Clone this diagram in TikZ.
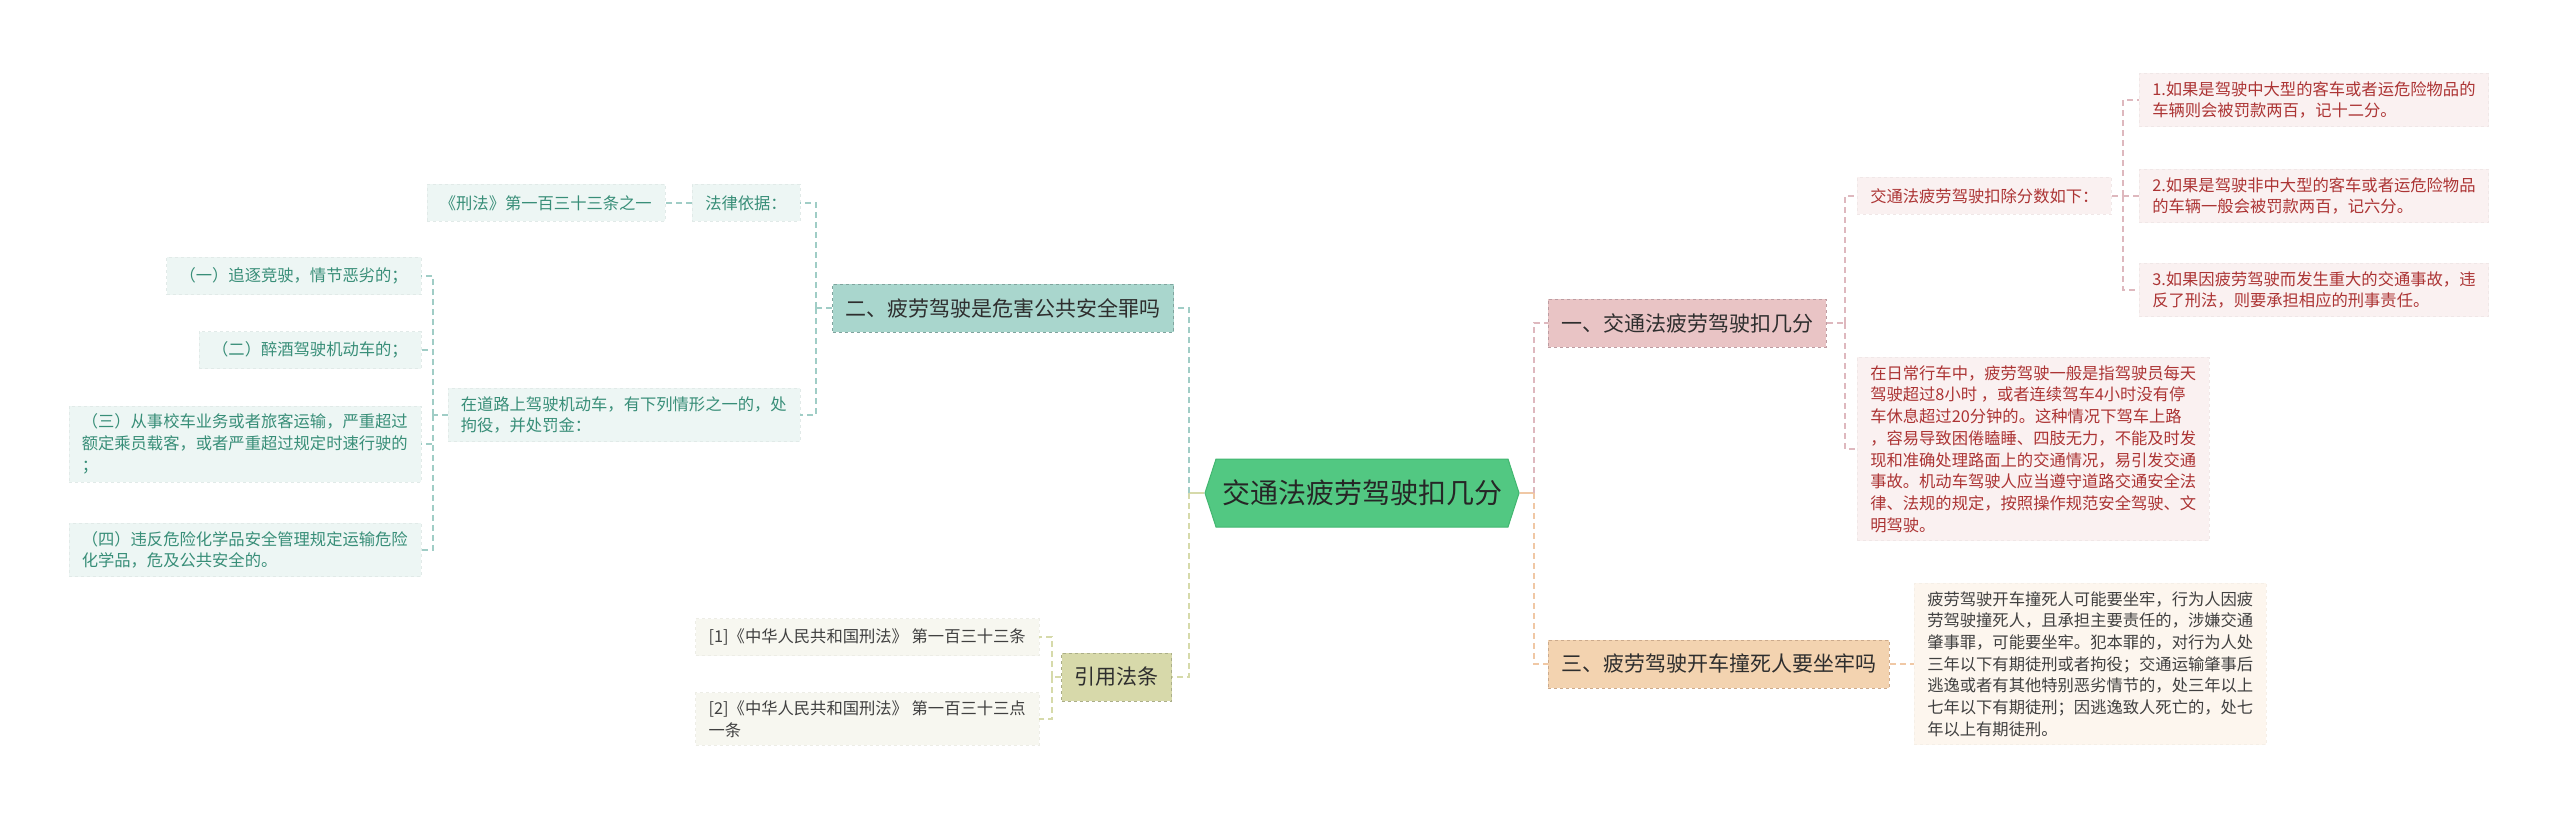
\documentclass[tikz,border=0pt]{standalone}
\usepackage{fontspec}
\setmainfont{Noto Sans CJK SC}
\usepackage{tikz}
\usetikzlibrary{positioning,shapes.symbols}
\definecolor{rootfill}{RGB}{82,200,130}
\definecolor{rootedge}{RGB}{66,182,112}
\definecolor{tealtopic}{RGB}{169,214,205}
\definecolor{tealleaf}{RGB}{237,246,244}
\definecolor{tealtext}{RGB}{56,142,120}
\definecolor{tealline}{RGB}{160,205,198}
\definecolor{olivetopic}{RGB}{215,217,170}
\definecolor{oliveleaf}{RGB}{247,247,240}
\definecolor{oliveline}{RGB}{214,218,170}
\definecolor{pinktopic}{RGB}{233,196,197}
\definecolor{pinkleaf}{RGB}{250,241,241}
\definecolor{pinktext}{RGB}{172,52,52}
\definecolor{pinkline}{RGB}{222,184,190}
\definecolor{peachtopic}{RGB}{243,211,176}
\definecolor{peachleaf}{RGB}{253,246,238}
\definecolor{peachline}{RGB}{240,200,165}
\tikzset{
  rootnode/.style={signal,signal to=east and west,signal pointer angle=144,fill=rootfill,draw=rootedge,line width=1pt,
    minimum height=68pt,inner xsep=6pt,font=\fontsize{28}{34}\selectfont,text=black!85},
  topic/.style={draw,dashed,line width=0.8pt,inner xsep=13pt,minimum height=48pt,font=\fontsize{21}{26}\selectfont,text=black!82},
  leaf/.style={draw,dashed,line width=0.5pt,inner xsep=13pt,inner ysep=8pt,minimum height=37pt,align=left,
    font=\fontsize{16.3}{21.7}\selectfont},
  tleaf/.style={leaf,fill=tealleaf,draw=tealleaf!95!black,text=tealtext},
  oleaf/.style={leaf,fill=oliveleaf,draw=oliveleaf!96!black,text=black!75},
  pleaf/.style={leaf,fill=pinkleaf,draw=pinkleaf!96!black,text=pinktext},
  eleaf/.style={leaf,fill=peachleaf,draw=peachleaf!97!black,text=black!75},
  link/.style={dashed,dash pattern=on 6pt off 4pt,line width=1.6pt},
  trunk/.style={link,line width=2.2pt},
}
\begin{document}
\begin{tikzpicture}[x=1pt,y=-1pt]
  \useasboundingbox (0,0) rectangle (2560,821);
  \node[rootnode] (root) at (1362,493) {交通法疲劳驾驶扣几分};
  \coordinate (lsp) at (1189,493);
  \coordinate (rsp) at (1534,493);

  % left side
  \node[topic,fill=tealtopic,draw=tealline!80!black,anchor=east] (q2) at (1174,308) {二、疲劳驾驶是危害公共安全罪吗};
  \node[tleaf,anchor=east] (basis) at (800,203) {法律依据：};
  \node[tleaf,left=27pt of basis] (xf) {《刑法》第一百三十三条之一};
  \node[tleaf,anchor=east] (road) at (800,415) {在道路上驾驶机动车，有下列情形之一的，处\\拘役，并处罚金：};
  \node[tleaf,anchor=east] (c1) at (421,276) {（一）追逐竞驶，情节恶劣的；};
  \node[tleaf,anchor=east] (c2) at (421,350) {（二）醉酒驾驶机动车的；};
  \node[tleaf,anchor=east] (c3) at (421,444) {（三）从事校车业务或者旅客运输，严重超过\\额定乘员载客，或者严重超过规定时速行驶的\\；};
  \node[tleaf,anchor=east] (c4) at (421,550) {（四）违反危险化学品安全管理规定运输危险\\化学品，危及公共安全的。};
  \coordinate (sp2) at (816,0);
  \coordinate (spr) at (433,0);

  \node[topic,fill=olivetopic,draw=oliveline!80!black,anchor=east] (cite) at (1172,677) {引用法条};
  \node[oleaf,anchor=east] (r1) at (1039,637) {[1]《中华人民共和国刑法》 第一百三十三条};
  \node[oleaf,anchor=east] (r2) at (1039,719) {[2]《中华人民共和国刑法》 第一百三十三点\\一条};
  \coordinate (sp3) at (1052,0);

  % right side
  \node[topic,fill=pinktopic,draw=pinkline!85!black,anchor=west] (q1) at (1548,323) {一、交通法疲劳驾驶扣几分};
  \node[pleaf,anchor=west] (deduct) at (1857,196) {交通法疲劳驾驶扣除分数如下：};
  \node[pleaf,anchor=west] (daily) at (1857,449) {在日常行车中，疲劳驾驶一般是指驾驶员每天\\驾驶超过8小时 ，或者连续驾车4小时没有停\\车休息超过20分钟的。这种情况下驾车上路\\，容易导致困倦瞌睡、四肢无力，不能及时发\\现和准确处理路面上的交通情况，易引发交通\\事故。机动车驾驶人应当遵守道路交通安全法\\律、法规的规定，按照操作规范安全驾驶、文\\明驾驶。};
  \node[pleaf,anchor=west] (d1) at (2139,100) {1.如果是驾驶中大型的客车或者运危险物品的\\车辆则会被罚款两百，记十二分。};
  \node[pleaf,anchor=west] (d2) at (2139,196) {2.如果是驾驶非中大型的客车或者运危险物品\\的车辆一般会被罚款两百，记六分。};
  \node[pleaf,anchor=west] (d3) at (2139,290) {3.如果因疲劳驾驶而发生重大的交通事故，违\\反了刑法，则要承担相应的刑事责任。};
  \coordinate (sp1) at (1845,0);
  \coordinate (sp4) at (2123,0);

  \node[topic,fill=peachtopic,draw=peachline!85!black,anchor=west] (q3) at (1548,664) {三、疲劳驾驶开车撞死人要坐牢吗};
  \node[eleaf,anchor=west] (death) at (1914,664) {疲劳驾驶开车撞死人可能要坐牢，行为人因疲\\劳驾驶撞死人，且承担主要责任的，涉嫌交通\\肇事罪，可能要坐牢。犯本罪的，对行为人处\\三年以下有期徒刑或者拘役；交通运输肇事后\\逃逸或者有其他特别恶劣情节的，处三年以上\\七年以下有期徒刑；因逃逸致人死亡的，处七\\年以上有期徒刑。};

  % connectors
  \draw[oliveline,line width=2.2pt] (root.west) -- (lsp);
  \draw[peachline,line width=2.2pt] (root.east) -- (rsp);
  \draw[trunk,tealline] (lsp) |- (q2.east);
  \draw[trunk,oliveline] (lsp) |- (cite.east);
  \draw[trunk,pinkline] (rsp) |- (q1.west);
  \draw[trunk,peachline] (rsp) |- (q3.west);

  \draw[link,tealline] (q2.west) -- (q2.west -| sp2);
  \foreach \n in {basis,road} \draw[link,tealline] (q2.west -| sp2) |- (\n.east);
  \draw[link,tealline] (basis.west) -- (xf.east);
  \draw[link,tealline] (road.west) -- (road.west -| spr);
  \foreach \n in {c1,c2,c3,c4} \draw[link,tealline] (road.west -| spr) |- (\n.east);

  \draw[link,oliveline] (cite.west) -- (cite.west -| sp3);
  \foreach \n in {r1,r2} \draw[link,oliveline] (cite.west -| sp3) |- (\n.east);

  \draw[link,pinkline] (q1.east) -- (q1.east -| sp1);
  \foreach \n in {deduct,daily} \draw[link,pinkline] (q1.east -| sp1) |- (\n.west);
  \draw[link,pinkline] (deduct.east) -- (deduct.east -| sp4);
  \foreach \n in {d1,d2,d3} \draw[link,pinkline] (deduct.east -| sp4) |- (\n.west);

  \draw[link,peachline] (q3.east) -- (death.west);
\end{tikzpicture}
\end{document}
